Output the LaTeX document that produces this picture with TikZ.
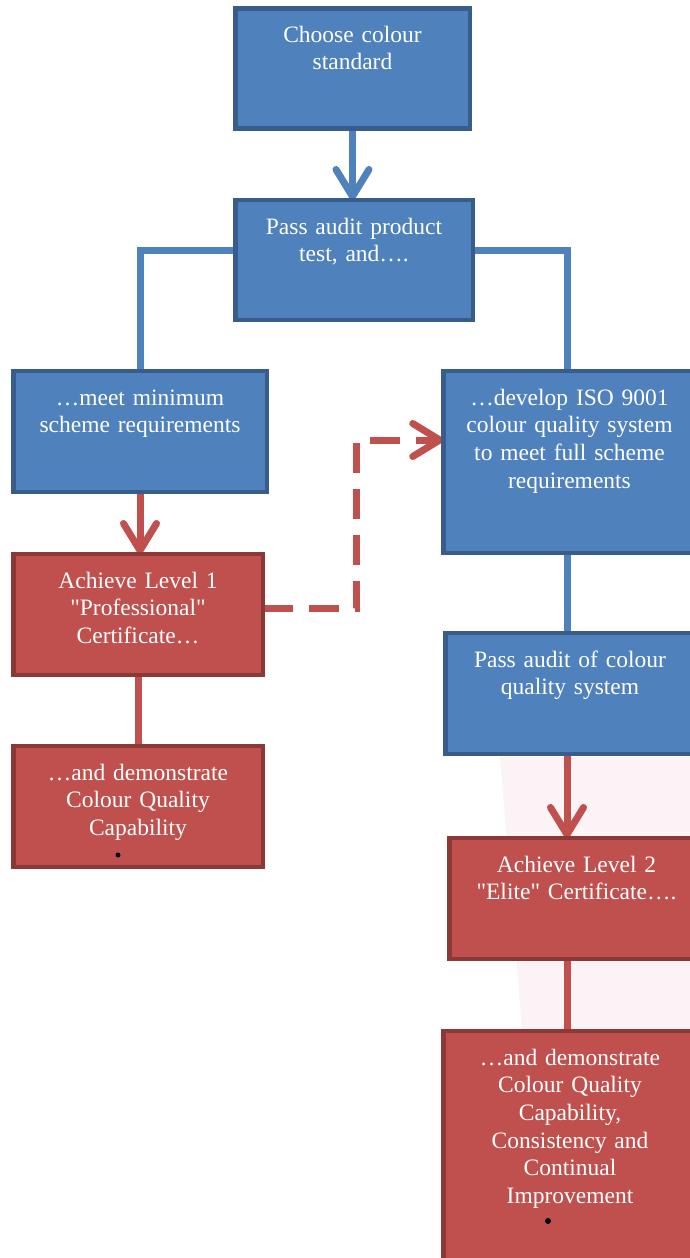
\documentclass[tikz,border=0pt]{standalone}
\usepackage{fontspec}
\setmainfont{Liberation Serif}
\usetikzlibrary{arrows.meta,backgrounds}

\definecolor{boxblue}{HTML}{4F81BD}
\definecolor{edgeblue}{HTML}{385D8A}
\definecolor{boxred}{HTML}{C0504D}
\definecolor{edgered}{HTML}{8C3836}
\definecolor{wmark}{HTML}{FCF3F6}

\begin{document}
\begin{tikzpicture}[x=1pt, y=-1pt,
    every node/.style = {shape=rectangle, draw, anchor=north, align=center,
    text width=222pt, inner xsep=2pt, inner ysep=17pt, outer sep=0pt,
    text height=17pt, text depth=69pt, line width=4.5pt, text=white,
    font=\fontsize{23.5}{27.7}\selectfont},
    cblue/.style={fill=boxblue, draw=edgeblue},
    cred/.style={fill=boxred, draw=edgered},
    lblue/.style={draw=boxblue, line width=7pt},
    lred/.style={draw=boxred, line width=7pt},
    chev/.style={-{Straight Barb[length=27pt,width=33pt,round]}}]
    \useasboundingbox (0,0) rectangle (690,1258);
    \clip (0,0) rectangle (690,1258);
    \node[cblue, minimum width=234.5pt] (choose) at (352.5, 8.25) {Choose colour\\standard};
    \node[cblue, minimum width=237.5pt] (pass) at (354, 200) {Pass audit product\\test, and….};
    \node[cblue, minimum width=253.5pt, text depth=70pt] (meet) at (140, 371) {…meet minimum\\scheme requirements};
    \node[cblue, minimum width=252.5pt, text depth=131pt] (develop) at (569.5, 371) {…develop ISO 9001\\colour quality system\\to meet full scheme\\requirements};
    \node[cred, minimum width=249.5pt, text depth=70pt] (level1) at (138, 554) {Achieve Level 1\\\textquotedbl Professional\textquotedbl\\Certificate…};
    \node[cred, minimum width=249.5pt, text depth=70pt] (demo1) at (138, 746) {…and demonstrate\\Colour Quality\\Capability};
    \node[cblue, minimum width=249.5pt, text depth=70pt] (auditq) at (570, 633) {Pass audit of colour\\quality system};
    \node[cred, minimum width=254.5pt, text depth=70pt] (level2) at (576.5, 838) {Achieve Level 2\\\textquotedbl Elite\textquotedbl\ Certificate….};
    \node[cred, minimum width=253pt, text depth=208pt] (demo2) at (570, 1031) {…and demonstrate\\Colour Quality\\Capability,\\Consistency and\\Continual\\Improvement};
    % empty bullets
    \fill (demo1.north) ++(-20, 109) circle (2.5pt);
    \fill (demo2.north) ++(-22, 190) circle (3pt);
    \begin{scope}[on background layer]
    \fill[wmark] (500,757) -- (690,757) -- (690,1029) -- (522,1029) -- cycle;
    \path
        (choose.south) edge[lblue, chev] (choose.south |- pass.north)
        (meet.south) edge[lred, chev] (meet.south |- level1.north)
        (level1.south) edge[lred] (demo1.north)
        ([xshift=-2.5pt]develop.south) edge[lblue] ([xshift=-2.5pt]develop.south |- auditq.north)
        ([xshift=-3pt]auditq.south) edge[lred, chev] ([xshift=-3pt]auditq.south |- level2.north)
        ([xshift=-3pt]auditq.south |- level2.south) edge[lred] ([xshift=-3pt]auditq.south |- demo2.north);
    \draw[lblue] ([yshift=10pt]pass.west) -| (meet.north);
    \draw[lblue] ([yshift=10pt]pass.east) -| ([xshift=-2.5pt]develop.north);
    \draw[lred, dash pattern=on 30pt off 16pt, chev] ([yshift=6pt]level1.east) -- ++(94,0) |- ([yshift=22pt]develop.west);
    \end{scope}
\end{tikzpicture}
\end{document}
